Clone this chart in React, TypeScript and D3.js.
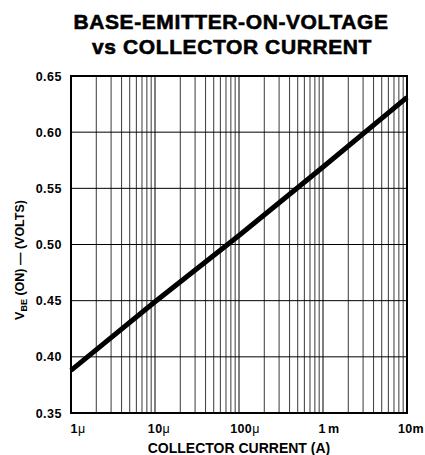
import React from "react";
import * as d3 from "d3";

const currents = [1e-6, 1e-5, 1e-4, 1e-3, 1e-2];
const vbe = [0.388, 0.449, 0.508, 0.569, 0.631];
const yTicks = [0.35, 0.4, 0.45, 0.5, 0.55, 0.6, 0.65];
const xTickValues = [1e-6, 1e-5, 1e-4, 1e-3, 1e-2];
const xTickNums = ["1", "10", "100", "1", "10"];
const xTickUnits = ["\u03bc", "\u03bc", "\u03bc", "m", "m"];

const W = 425, H = 455;
const L = 71, R = 407, T = 76, B = 413;

export default function App() {
  const x = d3.scaleLog().domain([1e-6, 1e-2]).range([L, R]);
  const y = d3.scaleLinear().domain([0.35, 0.65]).range([B, T]);
  const minor: number[] = [];
  for (let e = -6; e < -2; e++) {
    for (let m = 2; m <= 9; m++) minor.push(m * Math.pow(10, e));
  }
  const line = d3.line<number>().x((_, i) => x(currents[i])).y((d) => y(d));
  const font = "Liberation Sans, Arial, Helvetica, sans-serif";
  const xOffsets = [7, 4, 6, 6, 4];
  return (
    <svg width={W} height={H} style={{ position: "absolute", left: 0, top: 0, background: "#fff" }}>
      <rect width={W} height={H} fill="#fff" />
      <g fontFamily={font} fontWeight="bold" textAnchor="middle" fill="#000" stroke="#000" strokeWidth={0.6}>
        <text x={231} y={29} fontSize={21} letterSpacing={0.6}>BASE-EMITTER-ON-VOLTAGE</text>
        <text x={232} y={54} fontSize={21} letterSpacing={0.6}>vs COLLECTOR CURRENT</text>
      </g>
      {minor.map((v, i) => (
        <line key={"m" + i} x1={x(v)} x2={x(v)} y1={T} y2={B} stroke="#222" strokeWidth={0.9} />
      ))}
      {xTickValues.map((v, i) => (
        <line key={"M" + i} x1={x(v)} x2={x(v)} y1={T} y2={B} stroke="#000" strokeWidth={1} />
      ))}
      {yTicks.map((v, i) => (
        <line key={"h" + i} x1={L} x2={R} y1={y(v)} y2={y(v)} stroke="#000" strokeWidth={1} />
      ))}
      <rect x={L} y={T} width={R - L} height={B - T} fill="none" stroke="#000" strokeWidth={2} />
      <path d={line(vbe) || ""} fill="none" stroke="#000" strokeWidth={5} />
      <g fontFamily={font} fontWeight="bold" fontSize={12.5} fill="#000">
        {yTicks.map((v, i) => (
          <text key={"yt" + i} x={62} y={y(v) + 4.5} textAnchor="end" letterSpacing={0.5}>{v.toFixed(2)}</text>
        ))}
        {xTickValues.map((v, i) => (
          <text key={"xt" + i} x={x(v) + xOffsets[i]} y={433} textAnchor="middle" letterSpacing={0.4}>
            {xTickNums[i]}
            <tspan fontWeight={xTickUnits[i] === "m" ? "bold" : "normal"} dx={i === 3 ? 2 : 0}>{xTickUnits[i]}</tspan>
          </text>
        ))}
        <text x={239} y={453} textAnchor="middle" fontSize={14}>COLLECTOR CURRENT (A)</text>
        <text transform={`translate(24,260) rotate(-90)`} textAnchor="middle" fontSize={12.5}>
          V<tspan fontSize={9} dy={3}>BE</tspan><tspan dy={-3}> (ON) — (VOLTS)</tspan>
        </text>
      </g>
    </svg>
  );
}
